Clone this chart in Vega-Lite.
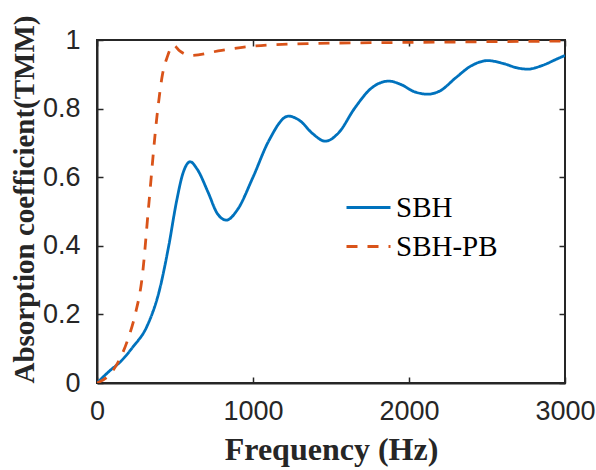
{
  "$schema": "https://vega.github.io/schema/vega-lite/v6.json",
  "width": 468,
  "height": 343,
  "autosize": "none",
  "padding": {"left": 97, "top": 40, "right": 31, "bottom": 87},
  "background": "white",
  "config": {
    "view": {"stroke": "#262626", "strokeWidth": 2},
    "axis": {
      "grid": false,
      "labelFlush": false,
      "domainColor": "#262626",
      "domainWidth": 2,
      "tickColor": "#262626",
      "tickWidth": 1.5,
      "tickSize": -6,
      "labelFont": "Liberation Sans",
      "labelFontSize": 27,
      "labelColor": "#262626",
      "titleFont": "Liberation Serif",
      "titleFontWeight": "bold",
      "titleColor": "#262626"
    }
  },
  "data": {
    "values": [
      {"f": 0, "a": 0, "s": "SBH"},
      {"f": 80, "a": 0.035, "s": "SBH"},
      {"f": 150, "a": 0.062, "s": "SBH"},
      {"f": 230, "a": 0.105, "s": "SBH"},
      {"f": 320, "a": 0.165, "s": "SBH"},
      {"f": 400, "a": 0.27, "s": "SBH"},
      {"f": 460, "a": 0.4, "s": "SBH"},
      {"f": 510, "a": 0.53, "s": "SBH"},
      {"f": 550, "a": 0.61, "s": "SBH"},
      {"f": 597, "a": 0.645, "s": "SBH"},
      {"f": 640, "a": 0.625, "s": "SBH"},
      {"f": 713, "a": 0.555, "s": "SBH"},
      {"f": 770, "a": 0.495, "s": "SBH"},
      {"f": 829, "a": 0.475, "s": "SBH"},
      {"f": 900, "a": 0.505, "s": "SBH"},
      {"f": 1000, "a": 0.6, "s": "SBH"},
      {"f": 1100, "a": 0.705, "s": "SBH"},
      {"f": 1227, "a": 0.778, "s": "SBH"},
      {"f": 1300, "a": 0.765, "s": "SBH"},
      {"f": 1380, "a": 0.728, "s": "SBH"},
      {"f": 1464, "a": 0.705, "s": "SBH"},
      {"f": 1550, "a": 0.73, "s": "SBH"},
      {"f": 1650, "a": 0.8, "s": "SBH"},
      {"f": 1760, "a": 0.86, "s": "SBH"},
      {"f": 1870, "a": 0.88, "s": "SBH"},
      {"f": 1950, "a": 0.87, "s": "SBH"},
      {"f": 2030, "a": 0.85, "s": "SBH"},
      {"f": 2120, "a": 0.842, "s": "SBH"},
      {"f": 2200, "a": 0.852, "s": "SBH"},
      {"f": 2300, "a": 0.89, "s": "SBH"},
      {"f": 2400, "a": 0.925, "s": "SBH"},
      {"f": 2505, "a": 0.94, "s": "SBH"},
      {"f": 2600, "a": 0.932, "s": "SBH"},
      {"f": 2700, "a": 0.918, "s": "SBH"},
      {"f": 2762, "a": 0.915, "s": "SBH"},
      {"f": 2850, "a": 0.925, "s": "SBH"},
      {"f": 2950, "a": 0.945, "s": "SBH"},
      {"f": 3000, "a": 0.955, "s": "SBH"},
      {"f": 0, "a": 0, "s": "SBH-PB"},
      {"f": 100, "a": 0.035, "s": "SBH-PB"},
      {"f": 200, "a": 0.13, "s": "SBH-PB"},
      {"f": 245, "a": 0.2, "s": "SBH-PB"},
      {"f": 290, "a": 0.31, "s": "SBH-PB"},
      {"f": 330, "a": 0.51, "s": "SBH-PB"},
      {"f": 385, "a": 0.78, "s": "SBH-PB"},
      {"f": 420, "a": 0.9, "s": "SBH-PB"},
      {"f": 450, "a": 0.95, "s": "SBH-PB"},
      {"f": 490, "a": 0.985, "s": "SBH-PB"},
      {"f": 530, "a": 0.968, "s": "SBH-PB"},
      {"f": 600, "a": 0.955, "s": "SBH-PB"},
      {"f": 800, "a": 0.97, "s": "SBH-PB"},
      {"f": 1000, "a": 0.982, "s": "SBH-PB"},
      {"f": 1400, "a": 0.99, "s": "SBH-PB"},
      {"f": 2000, "a": 0.993, "s": "SBH-PB"},
      {"f": 2500, "a": 0.995, "s": "SBH-PB"},
      {"f": 3000, "a": 0.997, "s": "SBH-PB"}
    ]
  },
  "layer": [
    {
      "mark": {"type": "line", "strokeWidth": 2.8, "interpolate": "monotone", "clip": true},
      "encoding": {
        "x": {"field": "f", "type": "quantitative", "scale": {"domain": [0, 3000], "nice": false},
          "axis": {"values": [0, 1000, 2000, 3000], "format": "d", "title": "Frequency (Hz)", "titleFontSize": 32, "labelPadding": 21, "titlePadding": 10}},
        "y": {"field": "a", "type": "quantitative", "scale": {"domain": [0, 1], "nice": false},
          "axis": {"values": [0, 0.2, 0.4, 0.6, 0.8, 1], "format": "~g", "title": "Absorption coefficient(TMM)", "titleFontSize": 29, "titleY": 159, "labelPadding": 23, "titlePadding": 3}},
        "color": {"field": "s", "type": "nominal",
          "scale": {"domain": ["SBH", "SBH-PB"], "range": ["#0072BD", "#D95319"]},
          "legend": {"title": null, "orient": "none", "legendX": 248, "legendY": 144,
            "symbolType": "stroke", "symbolSize": 1936, "symbolStrokeWidth": 2.8,
            "labelFont": "Liberation Serif", "labelFontSize": 29, "labelColor": "#000000",
            "labelOffset": 4, "rowPadding": -14}},
        "strokeDash": {"field": "s", "type": "nominal",
          "scale": {"domain": ["SBH", "SBH-PB"], "range": [[1, 0], [11, 10]]},
          "legend": {"title": null, "orient": "none", "legendX": 248, "legendY": 144,
            "symbolType": "stroke", "symbolSize": 1936, "symbolStrokeWidth": 2.8,
            "labelFont": "Liberation Serif", "labelFontSize": 29, "labelColor": "#000000",
            "labelOffset": 4, "rowPadding": -14}}
      }
    },
    {
      "mark": {"type": "rule", "opacity": 0},
      "encoding": {
        "x": {"field": "f", "type": "quantitative", "scale": {"domain": [0, 3000], "nice": false}, "axis": {"orient": "top", "values": [0, 1000, 2000, 3000], "labels": false, "title": null, "domain": false}},
        "y": {"field": "a", "type": "quantitative", "scale": {"domain": [0, 1], "nice": false}, "axis": {"orient": "right", "values": [0, 0.2, 0.4, 0.6, 0.8, 1], "labels": false, "title": null, "domain": false}}
      }
    }
  ],
  "resolve": {"axis": {"x": "independent", "y": "independent"}}
}
